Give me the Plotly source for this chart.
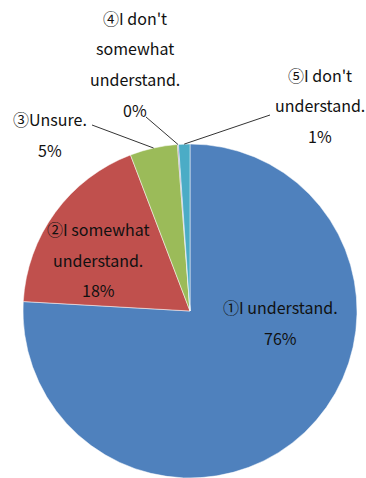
import math
import plotly.graph_objects as go

# Survey answers and their shares
labels = ["①I understand.", "②I somewhat understand.", "③Unsure.",
          "④I don't somewhat understand.", "⑤I don't understand."]
values = [75.9, 18.3, 4.6, 0.1, 1.1]
colors = ["#4F81BD", "#C0504D", "#9BBB59", "#8064A2", "#4BACC6"]

# Text lines for each slice label (percent appended from the data)
label_lines = [
    ["①I understand."],
    ["②I somewhat", "understand."],
    ["③Unsure."],
    ["④I don't", "somewhat", "understand."],
    ["⑤I don't", "understand."],
]

W, H = 366, 478
ML, MR, MT, MB = 23, 9, 144, 0
PW, PH = W - ML - MR, H - MT - MB

FONT = "Noto Sans CJK JP"
FS = 16
LINE_GAP = 30.5


def px(x):
    return (x - ML) / PW


def py(y):
    return 1 - (y - MT) / PH


fig = go.Figure(go.Pie(
    labels=labels,
    values=values,
    sort=False,
    direction="clockwise",
    rotation=0,
    marker=dict(colors=colors, line=dict(color="white", width=0.5)),
    textinfo="none",
    hoverinfo="label+percent",
    showlegend=False,
    domain=dict(x=[0, 1], y=[0, 1]),
))

total = sum(values)
pcts = ["{:.0f}%".format(v / total * 100) for v in values]

# Label block placement: (center x, first line y) in pixels
block_pos = [(280, 307), (98, 229), (50, 119), (135, 18), (320, 75)]

annotations = []
for lines, pct, (bx, by) in zip(label_lines, pcts, block_pos):
    for i, t in enumerate(lines + [pct]):
        annotations.append(dict(
            x=px(bx), y=py(by + i * LINE_GAP), xref="paper", yref="paper",
            text=t, showarrow=False, xanchor="center", yanchor="middle",
            font=dict(family=FONT, size=FS, color="#111111"),
        ))

# Leader lines from the rim of the small slices to their labels
leader_ends = {2: (92, 125), 3: (146, 117), 4: (270, 115)}
shapes = []
cum = 0.0
for k, v in enumerate(values):
    mid = (cum + v / 2) / total * 2 * math.pi
    cum += v
    if k in leader_ends:
        rx = 0.5 + 0.5 * math.sin(mid)
        ry = 0.5 + 0.5 * math.cos(mid)
        ex, ey = leader_ends[k]
        shapes.append(dict(type="line", xref="paper", yref="paper",
                           x0=rx, y0=ry, x1=px(ex), y1=py(ey),
                           line=dict(color="#000000", width=0.8)))

fig.update_layout(
    width=W, height=H,
    margin=dict(l=ML, r=MR, t=MT, b=MB, pad=0),
    paper_bgcolor="white",
    plot_bgcolor="white",
    annotations=annotations,
    shapes=shapes,
)

fig.write_html("out.html")
